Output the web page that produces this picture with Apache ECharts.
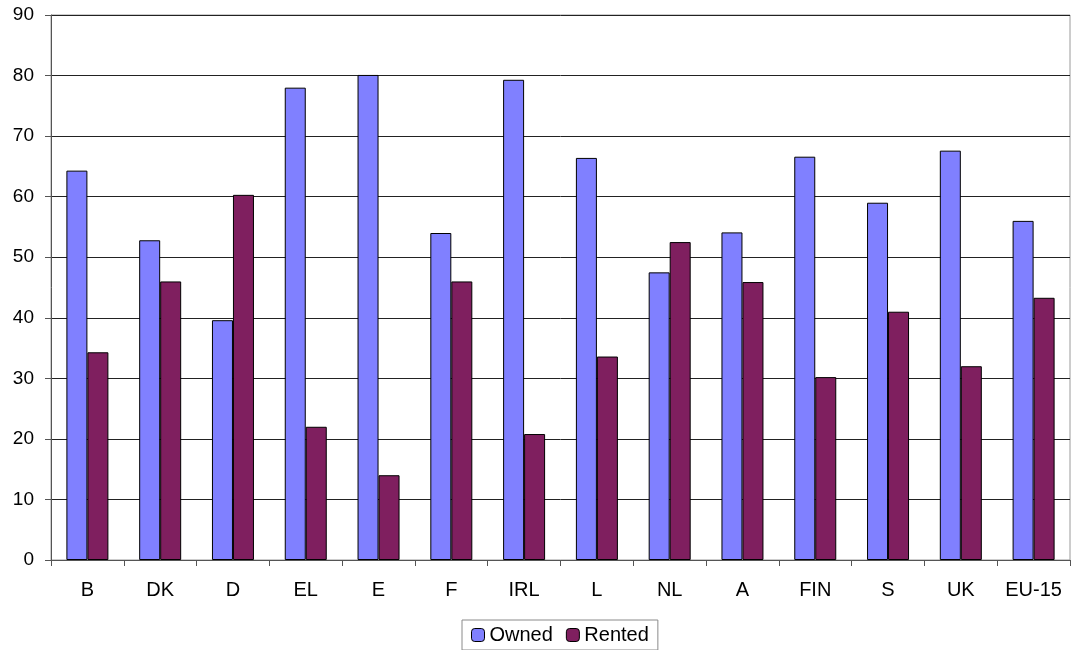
<!DOCTYPE html>
<html>
<head>
<meta charset="utf-8">
<script src="https://cdn.jsdelivr.net/npm/echarts@6/dist/echarts.min.js"></script>
<style>
  html, body { margin: 0; padding: 0; background: #fff; }
  #chart { width: 1072px; height: 650px; }
</style>
</head>
<body>
<div id="chart"></div>
<script>
// Housing tenure by country (%)
const categories = ['B', 'DK', 'D', 'EL', 'E', 'F', 'IRL', 'L', 'NL', 'A', 'FIN', 'S', 'UK', 'EU-15'];
const owned  = [64.3, 52.8, 39.6, 78.0, 80.1, 54.0, 79.3, 66.4, 47.5, 54.1, 66.6, 59.0, 67.6, 56.0];
const rented = [34.3, 46.0, 60.3, 22.0, 14.0, 46.0, 20.8, 33.6, 52.5, 45.9, 30.2, 41.0, 32.0, 43.3];
const yTicks = { min: 0, max: 90, interval: 10 };

const font = '"Liberation Sans", Arial, sans-serif';
const chart = echarts.init(document.getElementById('chart'), null, { renderer: 'canvas' });

chart.setOption({
  animation: false,
  backgroundColor: '#ffffff',
  textStyle: { fontFamily: font },
  grid: {
    left: 51, right: 2, top: 15, bottom: 90,
    show: true, borderColor: '#9a9a9a', borderWidth: 1
  },
  legend: {
    bottom: 0,
    left: 462,
    itemWidth: 13,
    itemHeight: 13,
    itemGap: 13,
    padding: [5, 9, 5, 9],
    borderColor: '#8a8a8a',
    borderWidth: 1,
    textStyle: { fontFamily: font, fontSize: 20, color: '#000' },
    data: [
      { name: 'Owned', itemStyle: { borderColor: '#000', borderWidth: 1 } },
      { name: 'Rented', itemStyle: { borderColor: '#000', borderWidth: 1 } }
    ]
  },
  xAxis: {
    type: 'category',
    data: categories,
    boundaryGap: true,
    axisLine: { lineStyle: { color: '#555', width: 1 } },
    axisTick: { show: true, interval: 0, alignWithLabel: false, length: 6, lineStyle: { color: '#555' } },
    axisLabel: { interval: 0, fontFamily: font, fontSize: 20, color: '#000', margin: 20 },
    splitLine: { show: false }
  },
  yAxis: {
    type: 'value',
    min: yTicks.min, max: yTicks.max, interval: yTicks.interval,
    axisLine: { show: true, lineStyle: { color: '#555', width: 1 } },
    axisTick: { show: true, length: 6, lineStyle: { color: '#555' } },
    axisLabel: { fontFamily: font, fontSize: 19, color: '#000', margin: 17 },
    splitLine: { show: true, lineStyle: { color: '#222', width: 1 } }
  },
  series: [
    {
      name: 'Owned', type: 'bar', data: owned,
      barWidth: 21, barGap: '0%',
      itemStyle: { color: '#8080ff', borderColor: '#000', borderWidth: 1 }
    },
    {
      name: 'Rented', type: 'bar', data: rented,
      barWidth: 21, barGap: '0%',
      itemStyle: { color: '#7f1f5f', borderColor: '#000', borderWidth: 1 }
    }
  ]
});
</script>
</body>
</html>
